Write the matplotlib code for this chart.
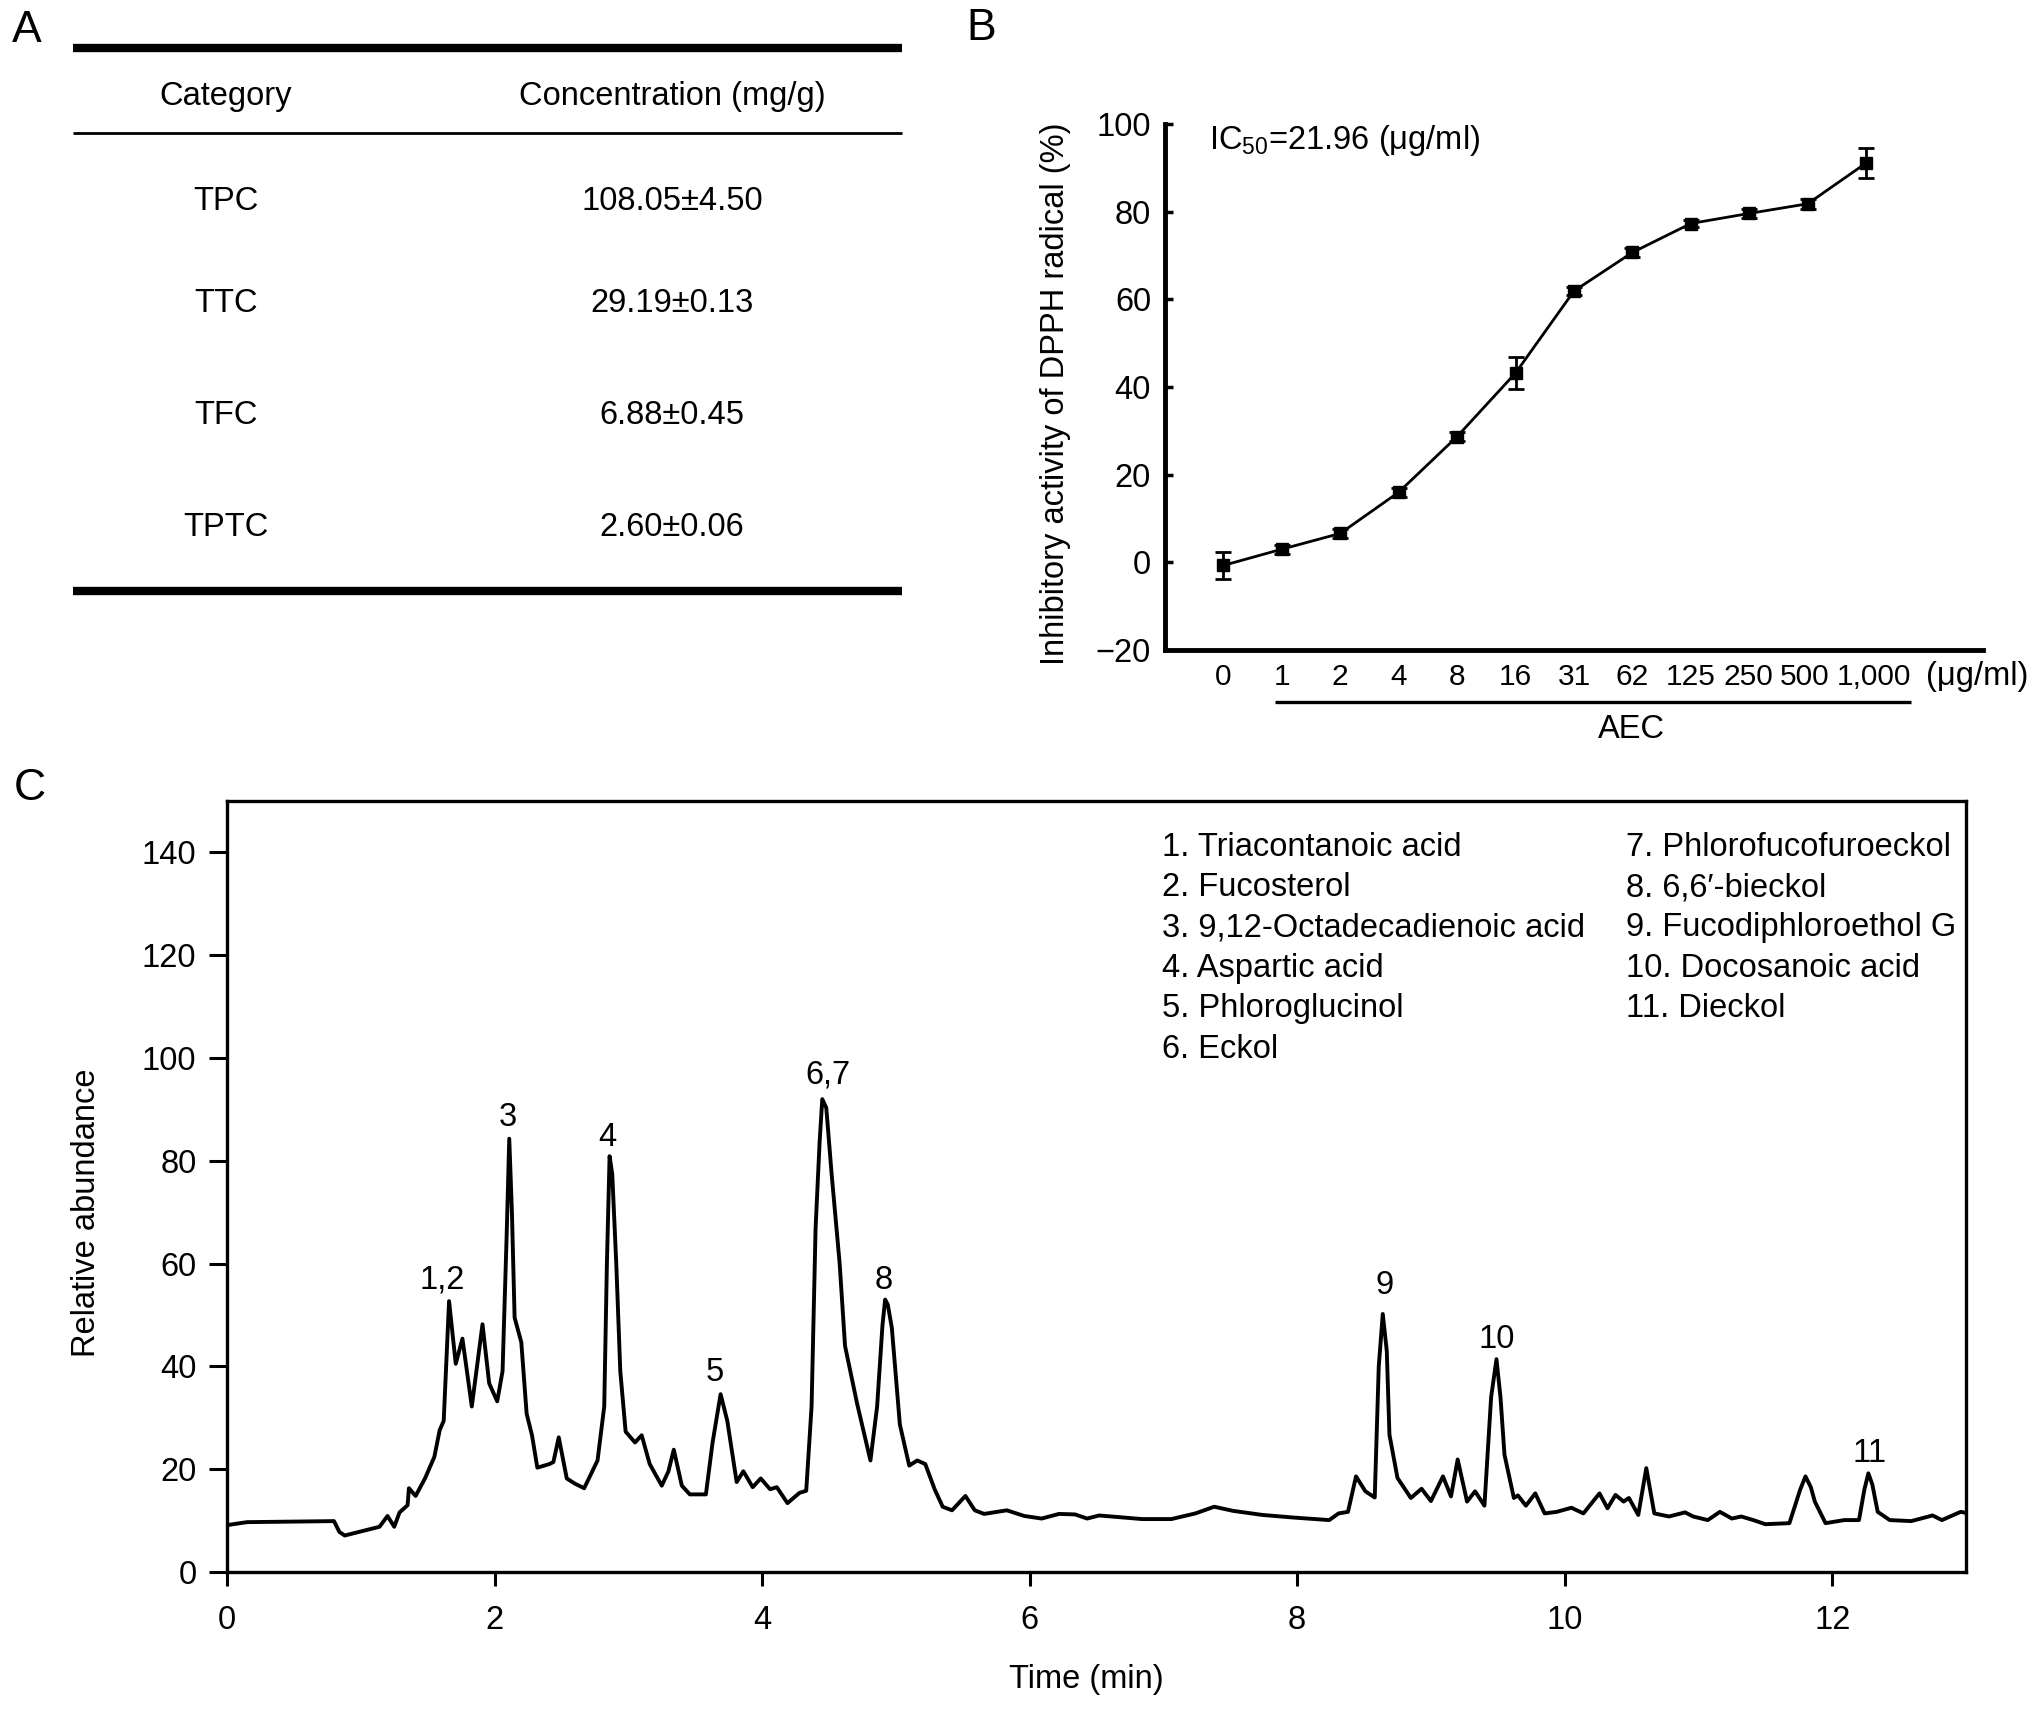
import matplotlib
matplotlib.use("Agg")
import matplotlib.pyplot as plt
from matplotlib.lines import Line2D
from matplotlib.transforms import blended_transform_factory

plt.rcParams['font.family'] = ['Liberation Sans', 'DejaVu Sans']
plt.rcParams['mathtext.default'] = 'regular'

# ---------------- data ----------------
# Panel A
table_categories = ["TPC", "TTC", "TFC", "TPTC"]
table_values = ["108.05\u00b14.50", "29.19\u00b10.13", "6.88\u00b10.45", "2.60\u00b10.06"]
table_headers = ["Category", "Concentration (mg/g)"]

# Panel B
dpph_conc_labels = ["0", "1", "2", "4", "8", "16", "31", "62", "125", "250", "500", "1,000"]
dpph_inhibition = [-0.7, 3.0, 6.6, 16.0, 28.7, 43.2, 61.9, 70.7, 77.3, 79.6, 81.8, 91.1]
dpph_error = [3.0, 1.0, 1.0, 1.0, 1.0, 3.7, 1.0, 1.0, 0.8, 1.0, 1.2, 3.5]
ic50_text = "IC$_{50}$=21.96 (\u03bcg/ml)"

# Panel C (chromatogram)
time_min = [0.00, 0.02, 0.15, 0.80, 0.84, 0.88, 1.14, 1.20, 1.25, 1.29, 1.35, 1.36, 1.41,
            1.48, 1.55, 1.59, 1.62, 1.66, 1.71, 1.76, 1.83, 1.91, 1.96, 2.02, 2.06, 2.09,
            2.11, 2.13, 2.15, 2.20, 2.24, 2.28, 2.32, 2.41, 2.44, 2.48, 2.54, 2.60, 2.67,
            2.77, 2.82, 2.84, 2.86, 2.88, 2.91, 2.94, 2.98, 3.05, 3.10, 3.16, 3.25, 3.30,
            3.34, 3.40, 3.46, 3.58, 3.63, 3.69, 3.74, 3.81, 3.86, 3.93, 3.99, 4.06, 4.11,
            4.19, 4.28, 4.33, 4.37, 4.40, 4.43, 4.45, 4.48, 4.52, 4.58, 4.62, 4.71, 4.81,
            4.86, 4.90, 4.92, 4.94, 4.97, 5.03, 5.10, 5.16, 5.22, 5.29, 5.35, 5.42, 5.52,
            5.59, 5.66, 5.83, 5.96, 6.09, 6.22, 6.34, 6.43, 6.52, 6.84, 7.06, 7.24, 7.38,
            7.52, 7.74, 7.97, 8.24, 8.31, 8.38, 8.44, 8.51, 8.58, 8.61, 8.64, 8.67, 8.69,
            8.75, 8.85, 8.93, 9.00, 9.09, 9.15, 9.20, 9.27, 9.33, 9.40, 9.45, 9.49, 9.52,
            9.55, 9.62, 9.65, 9.71, 9.78, 9.85, 9.94, 10.05, 10.14, 10.26, 10.32, 10.38,
            10.44, 10.48, 10.55, 10.61, 10.67, 10.78, 10.90, 10.96, 11.07, 11.16, 11.25,
            11.32, 11.41, 11.50, 11.68, 11.76, 11.80, 11.84, 11.87, 11.95, 12.09, 12.20,
            12.24, 12.27, 12.30, 12.34, 12.43, 12.59, 12.75, 12.82, 12.96, 13.00]
abundance = [9.0, 9.2, 9.7, 9.9, 7.8, 7.1, 8.8, 10.9, 8.8, 11.6, 13.0, 16.3, 14.8,
             18.2, 22.4, 27.6, 29.4, 52.7, 40.5, 45.4, 32.2, 48.2, 36.7, 33.2, 39.1, 65.0,
             84.3, 70.0, 49.5, 44.7, 30.8, 26.6, 20.3, 21.0, 21.4, 26.2, 18.2, 17.2, 16.3,
             21.7, 32.2, 60.0, 80.9, 77.4, 60.0, 39.1, 27.3, 25.2, 26.6, 21.0, 16.8, 19.6,
             23.8, 16.8, 15.1, 15.1, 25.2, 34.6, 29.4, 17.5, 19.6, 16.5, 18.2, 16.1, 16.5,
             13.4, 15.4, 15.8, 32.2, 66.9, 83.6, 92.0, 90.3, 77.4, 60.0, 44.0, 32.8, 21.7,
             32.2, 48.0, 53.0, 52.0, 47.5, 28.7, 20.7, 21.7, 21.0, 16.1, 12.7, 12.0, 14.8,
             12.0, 11.3, 12.0, 10.9, 10.4, 11.3, 11.2, 10.4, 11.0, 10.3, 10.3, 11.4, 12.7,
             11.9, 11.1, 10.6, 10.1, 11.4, 11.7, 18.6, 15.7, 14.5, 40.0, 50.2, 43.0, 26.7,
             18.3, 14.4, 16.2, 13.8, 18.6, 14.7, 21.9, 13.7, 15.7, 12.9, 34.0, 41.4, 34.0,
             22.8, 14.4, 14.9, 12.9, 15.3, 11.4, 11.7, 12.5, 11.4, 15.3, 12.4, 15.0,
             13.7, 14.4, 11.1, 20.2, 11.4, 10.8, 11.6, 10.8, 10.1, 11.7, 10.4,
             10.8, 10.1, 9.3, 9.5, 16.0, 18.6, 16.5, 13.7, 9.5, 10.1, 10.1,
             16.0, 19.2, 17.0, 11.7, 10.1, 9.9, 11.0, 10.1, 11.7, 11.5]

peak_labels = ["1,2", "3", "4", "5", "6,7", "8", "9", "10", "11"]
peak_label_time = [1.61, 2.10, 2.84, 3.65, 4.49, 4.91, 8.65, 9.49, 12.28]
peak_label_height = [56.8, 88.5, 84.5, 38.8, 96.6, 56.8, 55.8, 45.2, 23.0]

compounds_col1 = ["1. Triacontanoic acid", "2. Fucosterol", "3. 9,12-Octadecadienoic acid",
                  "4. Aspartic acid", "5. Phloroglucinol", "6. Eckol"]
compounds_col2 = ["7. Phlorofucofuroeckol", "8. 6,6\u2032-bieckol", "9. Fucodiphloroethol G",
                  "10. Docosanoic acid", "11. Dieckol"]

# ---------------- figure ----------------
W, H = 2032, 1709
fig = plt.figure(figsize=(W / 100, H / 100), dpi=100)
FS = 23.5


def fx(px):
    return px / W


def fy(py):
    return 1 - py / H


def hline(x0, x1, y, lw):
    fig.add_artist(Line2D([fx(x0), fx(x1)], [fy(y), fy(y)], transform=fig.transFigure,
                          color='black', lw=lw, solid_capstyle='butt'))


# Panel letters
for letter, (px, py) in zip("ABC", [(27, 30), (981, 29), (30, 789)]):
    fig.text(fx(px), fy(py), letter, fontsize=32, ha='center', va='center')

# ---------------- Panel A: table ----------------
hline(73, 902, 48, 6)
hline(73, 902, 133, 2)
hline(73, 902, 591, 6)
col_x = [226, 672]
fig.text(fx(col_x[0]), fy(97), table_headers[0], fontsize=FS, ha='center', va='center')
fig.text(fx(col_x[1]), fy(97), table_headers[1], fontsize=FS, ha='center', va='center')
row_y = [201, 303, 416, 528]
for cat, val, ry in zip(table_categories, table_values, row_y):
    fig.text(fx(col_x[0]), fy(ry), cat, fontsize=FS, ha='center', va='center')
    fig.text(fx(col_x[1]), fy(ry), val, fontsize=FS, ha='center', va='center')

# ---------------- Panel B ----------------
bl, br, bt, bb = 1165, 1983, 124, 650
axb = fig.add_axes([fx(bl), fy(bb), (br - bl) / W, (bb - bt) / H])
xs = list(range(len(dpph_conc_labels)))
axb.errorbar(xs, dpph_inhibition, yerr=dpph_error, color='black', lw=2, marker='s',
             markersize=8, capsize=6, capthick=2, elinewidth=2)
axb.set_xlim(-1, 13)
axb.set_ylim(-20, 100)
axb.set_yticks([-20, 0, 20, 40, 60, 80, 100])
axb.set_xticks(xs)
axb.set_xticklabels([])
axb.tick_params(axis='x', length=0)
axb.tick_params(axis='y', direction='in', length=6, width=2.5, pad=10, labelsize=FS)
# concentration labels (last ones nudged slightly apart, as in the original)
px_per_unit = (br - bl) / 14.0
nudge_px = {9: -1, 10: -3, 11: 8}
lab_tr = blended_transform_factory(axb.transData, axb.transAxes)
for i, lab in enumerate(dpph_conc_labels):
    axb.text(xs[i] + nudge_px.get(i, 0) / px_per_unit, (bb - 677) / (bb - bt), lab,
             fontsize=21.5, ha='center', va='center', transform=lab_tr, clip_on=False)
for s in ['top', 'right']:
    axb.spines[s].set_visible(False)
for s in ['left', 'bottom']:
    axb.spines[s].set_linewidth(3.5)
axb.set_ylabel("Inhibitory activity of DPPH radical (%)", fontsize=FS)
axb.yaxis.set_label_coords((1071 - bl) / (br - bl), (bb - 394) / (bb - bt))
axb.text((1209 - bl) / (br - bl), (bb - 141) / (bb - bt), ic50_text, fontsize=FS,
         transform=axb.transAxes, ha='left', va='center')
fig.text(fx(1926), fy(677), "(\u03bcg/ml)", fontsize=FS, ha='left', va='center')
hline(1275, 1911, 702, 2.4)
fig.text(fx(1632), fy(730), "AEC", fontsize=FS, ha='center', va='center')

# ---------------- Panel C ----------------
cl, cr, ct, cb = 227, 1966, 801, 1572
axc = fig.add_axes([fx(cl), fy(cb), (cr - cl) / W, (cb - ct) / H])
axc.plot(time_min, abundance, color='black', lw=2.8, solid_joinstyle='round')
axc.set_xlim(0, 13)
axc.set_ylim(0, 150)
axc.set_xticks([0, 2, 4, 6, 8, 10, 12])
axc.set_yticks([0, 20, 40, 60, 80, 100, 120, 140])
axc.tick_params(axis='x', direction='out', length=10, width=2.2, pad=14, labelsize=FS)
axc.tick_params(axis='y', direction='out', length=13, width=2.2, pad=9, labelsize=FS)
for s in axc.spines.values():
    s.set_linewidth(2.4)
axc.set_xlabel("Time (min)", fontsize=FS)
axc.set_ylabel("Relative abundance", fontsize=FS)
axc.xaxis.set_label_coords((1086 - cl) / (cr - cl), (cb - 1664) / (cb - ct))
axc.yaxis.set_label_coords((102 - cl) / (cr - cl), (cb - 1213) / (cb - ct))

for lab, t, h in zip(peak_labels, peak_label_time, peak_label_height):
    axc.text(t, h, lab, fontsize=FS, ha='center', va='center')

row_h = 7.85
for i, name in enumerate(compounds_col1):
    axc.text(6.99, 141.0 - i * row_h, name, fontsize=FS, ha='left', va='center')
for i, name in enumerate(compounds_col2):
    axc.text(10.46, 141.0 - i * row_h, name, fontsize=FS, ha='left', va='center')

fig.savefig("out.png", dpi=100)
